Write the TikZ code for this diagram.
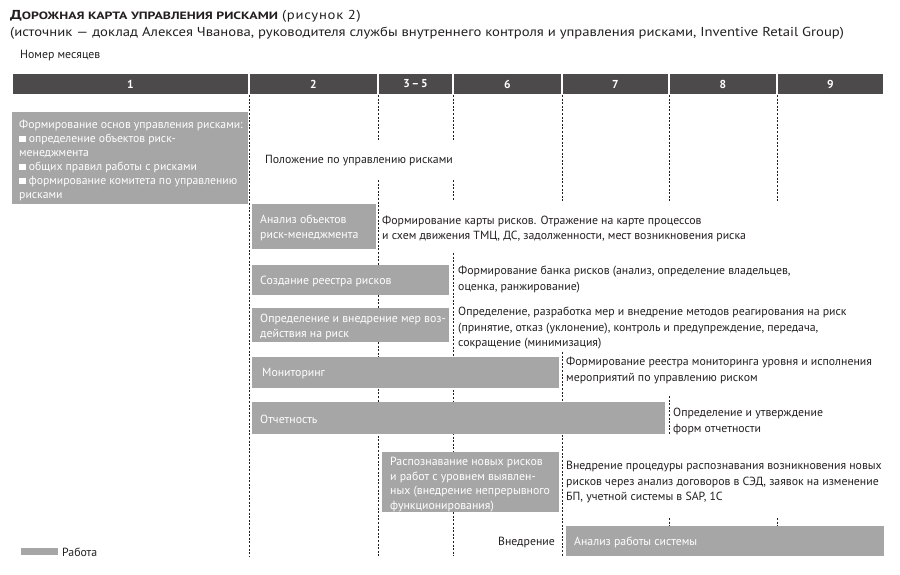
\documentclass[tikz,border=0pt]{standalone}
\usepackage{fontspec}
\setmainfont{PT Sans}
\definecolor{hdr}{HTML}{4D4A4B}
\definecolor{barg}{HTML}{A6A6A6}
\definecolor{ink}{HTML}{231F20}
\newcommand\bodyf{\fontsize{11.8}{15.5}\selectfont}
\newcommand\barf{\fontsize{11.8}{14.8}\selectfont}
\newcommand\sqb{\rule{6.5pt}{6.5pt}}
\begin{document}
\begin{tikzpicture}[x=1pt,y=-1pt,
  txt/.style={inner sep=0pt, anchor=west, align=left, text=ink, font=\bodyf},
  intxt/.style={inner sep=0pt, anchor=west, align=left, text=white, font=\barf},
  hcell/.style={fill=hdr, draw=white, line width=1.2pt, minimum height=22pt, inner sep=0pt,
     text=white, font=\bfseries\fontsize{11.5}{12}\selectfont},
  bar/.style={fill=barg, anchor=north west, inner sep=0pt},
  grid/.style={ink, line width=0.7pt, dash pattern=on 2pt off 1.6pt}]
\useasboundingbox (0,0) rectangle (900,574);

% title
\node[txt, anchor=base west, font=\fontsize{13}{14}\selectfont] (t1) at (10,19)
  {\scalebox{1.3}[1]{\textbf{Д{\fontsize{10.6}{12}\selectfont ОРОЖНАЯ КАРТА УПРАВЛЕНИЯ РИСКАМИ}}}\hspace{4pt}\scalebox{1.13}[1]{\addfontfeature{LetterSpace=5}(рисунок 2)}};
\node[txt, anchor=base west, font=\fontsize{13}{14}\selectfont] (t2) at (10,36)
  {\scalebox{1.13}[1]{(источник — доклад Алексея Чванова, руководителя службы внутреннего контроля и управления рисками, Inventive Retail Group)}};
\node[txt] (nm) at (20,56) {Номер месяцев};

% header
\node[hcell, minimum width=237pt] (h1) at (130.5,84) {1};
\node[hcell, minimum width=129pt] (h2) at (313.5,84) {2};
\node[hcell, minimum width=75pt]  (h3) at (415.5,84) {3\,--\,5};
\node[hcell, minimum width=109pt] (h4) at (507.5,84) {6};
\node[hcell, minimum width=107pt] (h5) at (615.5,84) {7};
\node[hcell, minimum width=108pt] (h6) at (723,84) {8};
\node[hcell, minimum width=107pt] (h7) at (830.5,84) {9};

% dashed grid lines
\draw[grid] (249,95) -- (249,556);
\draw[grid] (378,95) -- (378,140);
\draw[grid] (378,180) -- (378,556);
\draw[grid] (453,95) -- (453,140);
\draw[grid] (453,180) -- (453,201);
\draw[grid] (453,253) -- (453,556);
\draw[grid] (562,95) -- (562,202);
\draw[grid] (562,352) -- (562,556);
\draw[grid] (669,95) -- (669,202);
\draw[grid] (669,396) -- (669,434);
\draw[grid] (669,518) -- (669,526);
\draw[grid] (777,95) -- (777,202);
\draw[grid] (777,518) -- (777,526);

% bars
\node[bar, minimum width=236pt, minimum height=92pt] (b1) at (12,112) {};
\node[intxt, font=\fontsize{11.7}{14}\selectfont] (b1t) at ([xshift=7pt,yshift=-2pt]b1.west)
  {Формирование основ управления рисками:\\
   \sqb{} определение объектов риск-\\менеджмента\\
   \sqb{} общих правил работы с рисками\\
   \sqb{} формирование комитета по управлению\\рисками};
\node[bar, minimum width=124pt, minimum height=45pt] (b2) at (252,204) {};
\node[intxt] (b2t) at ([xshift=8pt,yshift=-1.5pt]b2.west) {Анализ объектов\\риск-менеджмента};
\node[bar, minimum width=197pt, minimum height=30pt] (b3) at (252,265) {};
\node[intxt] (b3t) at ([xshift=8pt,yshift=-1pt]b3.west) {Создание реестра рисков};
\node[bar, minimum width=197pt, minimum height=34pt] (b4) at (252,308) {};
\node[intxt] (b4t) at ([xshift=8pt,yshift=-1.5pt]b4.west) {Определение и внедрение мер воз-\\действия на риск};
\node[bar, minimum width=307pt, minimum height=31pt] (b5) at (252,357) {};
\node[intxt] (b5t) at ([xshift=10pt,yshift=-1pt]b5.west) {Мониторинг};
\node[bar, minimum width=413pt, minimum height=32pt] (b6) at (252,402) {};
\node[intxt] (b6t) at ([xshift=8pt,yshift=-1pt]b6.west) {Отчетность};
\node[bar, minimum width=177pt, minimum height=60pt] (b7) at (382,452) {};
\node[intxt] (b7t) at ([xshift=8pt,yshift=-2.5pt]b7.west)
  {Распознавание новых рисков\\и работ с уровнем выявлен-\\ных (внедрение непрерывного\\функционирования)};
\node[bar, minimum width=318pt, minimum height=30pt] (b8) at (566,526) {};
\node[intxt] (b8t) at ([xshift=8pt,yshift=-1pt]b8.west) {Анализ работы системы};

% side texts
\node[txt] (s1) at (265,161) {Положение по управлению рисками};
\node[txt] (s2) at (382,229) {Формирование карты рисков. Отражение на карте процессов\\и схем движения ТМЦ, ДС, задолженности, мест возникновения риска};
\node[txt] (s3) at (458,279.5) {Формирование банка рисков (анализ, определение владельцев,\\оценка, ранжирование)};
\node[txt] (s4) at (458,328.5) {Определение, разработка мер и внедрение методов реагирования на риск\\(принятие, отказ (уклонение), контроль и предупреждение, передача,\\сокращение (минимизация)};
\node[txt] (s5) at (566,370.5) {Формирование реестра мониторинга уровня и исполнения\\мероприятий по управлению риском};
\node[txt] (s6) at (673,421.5) {Определение и утверждение\\форм отчетности};
\node[txt] (s7) at (566,482.5) {Внедрение процедуры распознавания возникновения новых\\рисков через анализ договоров в СЭД, заявок на изменение\\БП, учетной системы в SAP, 1С};
\node[txt, anchor=east] (s8) at (555,542) {Внедрение};

% legend
\node[bar, minimum width=37pt, minimum height=7pt] (lg) at (21,548) {};
\node[txt] (lgt) at (62,552) {Работа};
\end{tikzpicture}
\end{document}
